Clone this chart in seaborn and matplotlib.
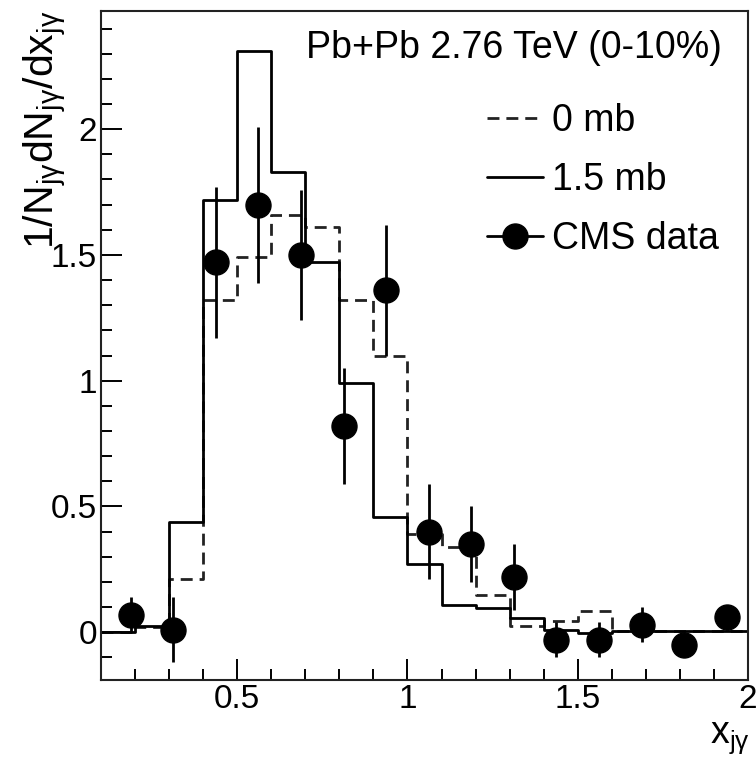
import numpy as np
import pandas as pd
import matplotlib
matplotlib.use("Agg")
import matplotlib.pyplot as plt
from matplotlib.lines import Line2D
from matplotlib.ticker import MultipleLocator
import seaborn as sns

# ---------------- data ----------------
bin_edges = [0.1, 0.2, 0.3, 0.4, 0.5, 0.6, 0.7, 0.8, 0.9, 1.0,
             1.1, 1.2, 1.3, 1.4, 1.5, 1.6, 1.7, 1.8, 1.9, 2.0]
mb0 = [0.0, 0.02, 0.21, 1.32, 1.49, 1.66, 1.61, 1.32, 1.10, 0.39,
       0.34, 0.15, 0.024, 0.044, 0.085, 0.006, 0.006, 0.006, 0.006]
mb15 = [0.0, 0.024, 0.44, 1.72, 2.31, 1.83, 1.47, 0.99, 0.46, 0.27,
        0.11, 0.097, 0.057, 0.01, -0.003, 0.006, 0.006, 0.006, 0.006]
cms_x = [0.1875, 0.3125, 0.4375, 0.5625, 0.6875, 0.8125, 0.9375, 1.0625,
         1.1875, 1.3125, 1.4375, 1.5625, 1.6875, 1.8125, 1.9375]
cms_y = [0.07, 0.01, 1.47, 1.70, 1.50, 0.82, 1.36, 0.40,
         0.35, 0.22, -0.03, -0.03, 0.03, -0.05, 0.06]
cms_err = [0.07, 0.13, 0.30, 0.31, 0.26, 0.23, 0.26, 0.19,
           0.15, 0.13, 0.07, 0.07, 0.07, 0.04, 0.05]
x_ticks = [0.5, 1.0, 1.5, 2.0]
x_tick_labels = ["0.5", "1", "1.5", "2"]
y_ticks = [0.0, 0.5, 1.0, 1.5, 2.0]
y_tick_labels = ["0", "0.5", "1", "1.5", "2"]
series_labels = ["0 mb", "1.5 mb", "CMS data"]
title_text = "Pb+Pb 2.76 TeV (0-10%)"

# ---------------- style ----------------
sns.set_style("ticks")
plt.rcParams["font.family"] = ["Liberation Sans", "DejaVu Sans"]
plt.rcParams["mathtext.fontset"] = "custom"
plt.rcParams["mathtext.rm"] = "Liberation Sans"
plt.rcParams["mathtext.it"] = "Liberation Sans"
plt.rcParams["mathtext.bf"] = "Liberation Sans:bold"
for key in ["text.color", "axes.labelcolor", "xtick.color", "ytick.color",
            "xtick.labelcolor", "ytick.labelcolor"]:
    plt.rcParams[key] = "black"

fig = plt.figure(figsize=(7.56, 7.67), dpi=100)
ax = fig.add_axes([0.1336, 0.1134, 0.8558, 0.8723])

LW = 2.0
dash = (0, (4.3, 2.5))

df0 = pd.DataFrame({"x": bin_edges, "y": mb0 + [mb0[-1]]})
df15 = pd.DataFrame({"x": bin_edges, "y": mb15 + [mb15[-1]]})

sns.lineplot(data=df0, x="x", y="y", ax=ax, drawstyle="steps-post",
             estimator=None, sort=False, color="#222222", lw=LW,
             linestyle=dash)
sns.lineplot(data=df15, x="x", y="y", ax=ax, drawstyle="steps-post",
             estimator=None, sort=False, color="black", lw=LW)
ax.errorbar(cms_x, cms_y, yerr=cms_err, fmt="o", color="black",
            markersize=18, elinewidth=2.0, capsize=0, zorder=5)

# ---------------- axes ----------------
ax.set_xlim(0.1, 2.0)
ax.set_ylim(-0.19, 2.47)
ax.set_xticks(x_ticks)
ax.set_xticklabels(x_tick_labels)
ax.set_yticks(y_ticks)
ax.set_yticklabels(y_tick_labels)
ax.xaxis.set_minor_locator(MultipleLocator(0.1))
ax.yaxis.set_minor_locator(MultipleLocator(0.1))
ax.tick_params(which="both", direction="in", top=False, right=False,
               color="black", width=1.4, labelsize=24, labelcolor="black")
ax.tick_params(which="major", length=15)
ax.tick_params(which="minor", length=8)
ax.tick_params(axis="y", which="major", pad=3)
ax.tick_params(axis="x", which="major", pad=3)
for s in ax.spines.values():
    s.set_linewidth(1.5)
    s.set_color("#222222")
    s.set_visible(True)

ax.set_ylabel(r"1/N$_{j\gamma}$dN$_{j\gamma}$/dx$_{j\gamma}$",
              fontsize=29.5, loc="top", color="black")
ax.yaxis.set_label_coords(-0.05, 1.0)
ax.set_xlabel(r"x$_{j\gamma}$", fontsize=27, loc="right", color="black")
ax.xaxis.set_label_coords(1.003, -0.06)

ax.text(0.96, 0.945, title_text, transform=ax.transAxes, ha="right",
        va="center", fontsize=27, color="black")

handles = [
    Line2D([], [], color="#222222", lw=LW, linestyle=dash),
    Line2D([], [], color="black", lw=LW),
    Line2D([], [], color="black", lw=LW, marker="o", markersize=18),
]
leg = ax.legend(handles, series_labels, loc="upper left",
                bbox_to_anchor=(0.5966, 0.862), frameon=False, fontsize=27,
                handlelength=1.5, handletextpad=0.24, labelspacing=0.61,
                borderpad=0, borderaxespad=0)
for t in leg.get_texts():
    t.set_color("black")

fig.savefig("out.png", dpi=100)
